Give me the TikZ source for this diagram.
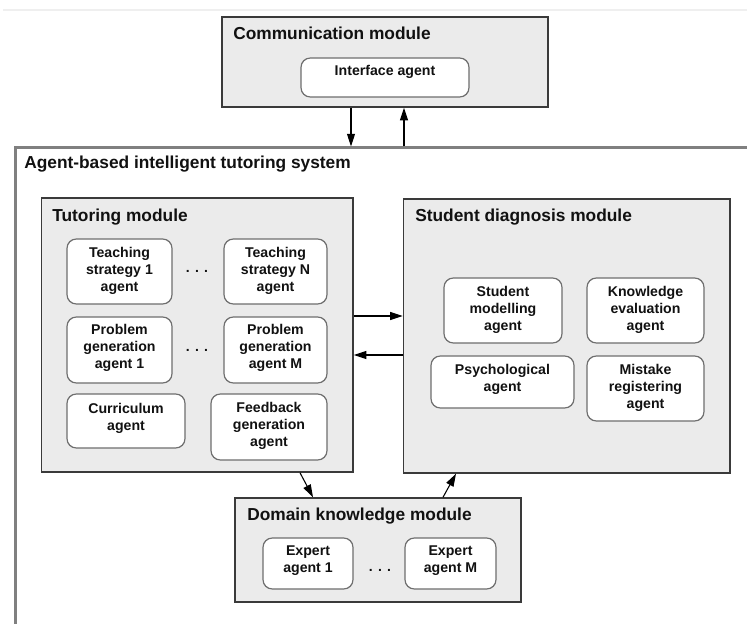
\documentclass[tikz,border=0pt]{standalone}
\usepackage{fontspec}
\setmainfont{Liberation Sans}
\usetikzlibrary{fit,arrows.meta}
\definecolor{modfill}{HTML}{EBEBEB}
\definecolor{moddraw}{HTML}{3A3A3A}
\definecolor{agdraw}{HTML}{6E6E6E}
\definecolor{outdraw}{HTML}{808080}
\definecolor{txt}{HTML}{111111}
\definecolor{faint}{HTML}{EFEFEF}
\begin{document}
\begin{tikzpicture}[x=0.75pt,y=-0.75pt,
  module/.style={draw=moddraw, fill=modfill, line width=1.1pt, inner sep=0pt},
  outerbox/.style={draw=outdraw, line width=1.6pt, inner sep=0pt},
  agentbox/.style={draw=agdraw, fill=white, rounded corners=7pt, line width=0.9pt, inner sep=0pt},
  agtext/.style={font=\fontsize{10.6}{12.75}\selectfont\bfseries, align=center, inner sep=0pt, text=txt},
  modtitle/.style={font=\fontsize{13}{15}\selectfont\bfseries, anchor=base west, inner sep=0pt, text=txt},
  arr/.style={-{Triangle[length=9.5pt,width=6pt]}, line width=0.8pt},
  dotsnode/.style={font=\fontsize{10.5}{12.75}\selectfont\bfseries, inner sep=0pt, anchor=base, text=txt}]
\useasboundingbox (0,0) rectangle (747,624);
\clip (0,0) rectangle (747,624);
\fill[white] (0,0) rectangle (747,624);
\draw[faint, line width=1pt] (3,10) -- (747,10);

% outer system box
\node[outerbox, fit={(15.5,147.5)(800,700)}] (sys) {};
\node[modtitle] (systitle) at (24,169) {Agent-based intelligent tutoring system};

% communication module
\node[module, fit={(222,17)(548,107)}] (cm) {};
\node[modtitle] (cmtitle) at (233,40) {Communication module};
\node[agentbox, fit={(301,58)(469,97)}] (ia) {};
\node[agtext] (iat) at (385,72) {Interface agent};

% tutoring module
\node[module, fit={(41.5,198)(353,472)}] (tm) {};
\node[modtitle] (tmtitle) at (52,222) {Tutoring module};
\node[agentbox, fit={(67,239)(172,304)}] (ts1) {};
\node[agtext] (ts1t) at (119.5,271) {Teaching\\strategy 1\\agent};
\node[agentbox, fit={(224,239)(327,304)}] (tsn) {};
\node[agtext] (tsnt) at (275.5,271) {Teaching\\strategy N\\agent};
\node[dotsnode] (d1) at (197,273) {. . .};
\node[agentbox, fit={(67,317)(172,383)}] (pg1) {};
\node[agtext] (pg1t) at (119.5,348) {Problem\\generation\\agent 1};
\node[agentbox, fit={(224,317)(327,383)}] (pgm) {};
\node[agtext] (pgmt) at (275.5,348) {Problem\\generation\\agent M};
\node[dotsnode] (d2) at (197,352) {. . .};
\node[agentbox, fit={(67,394)(185,448)}] (cur) {};
\node[agtext] (curt) at (126,418) {Curriculum\\agent};
\node[agentbox, fit={(211,394)(327,460)}] (fb) {};
\node[agtext] (fbt) at (269,426) {Feedback\\generation\\agent};

% student diagnosis module
\node[module, fit={(403.5,199)(730,473)}] (sd) {};
\node[modtitle] (sdtitle) at (415,222) {Student diagnosis module};
\node[agentbox, fit={(444,278)(562,343)}] (sm) {};
\node[agtext] (smt) at (503,310) {Student\\modelling\\agent};
\node[agentbox, fit={(587,278)(704,343)}] (ke) {};
\node[agtext] (ket) at (645.5,310) {Knowledge\\evaluation\\agent};
\node[agentbox, fit={(431,356)(574,408)}] (psy) {};
\node[agtext] (psyt) at (502.5,379.5) {Psychological\\agent};
\node[agentbox, fit={(587,356)(704,421)}] (mr) {};
\node[agtext] (mrt) at (645.5,388) {Mistake\\registering\\agent};

% domain knowledge module
\node[module, fit={(235,498)(521,602)}] (dk) {};
\node[modtitle] (dktitle) at (247,520) {Domain knowledge module};
\node[agentbox, fit={(263,538)(353,589)}] (e1) {};
\node[agtext] (e1t) at (308,561) {Expert\\agent 1};
\node[agentbox, fit={(405,538)(496,589)}] (em) {};
\node[agtext] (emt) at (450.5,561) {Expert\\agent M};
\node[dotsnode] (d3) at (380,571) {. . .};

% connectors
\draw[arr] (cm.south -| 351,0) -- (sys.north -| 351,0);
\draw[arr] (sys.north -| 404,0) -- (cm.south -| 404,0);
\draw[arr] (tm.east |- 0,316) -- (sd.west |- 0,316);
\draw[arr] (sd.west |- 0,355) -- (tm.east |- 0,355);
\draw[arr] (tm.south -| 300,0) -- (dk.north -| 313,0);
\draw[arr] (dk.north -| 443,0) -- (sd.south -| 456,0);
\end{tikzpicture}
\end{document}
